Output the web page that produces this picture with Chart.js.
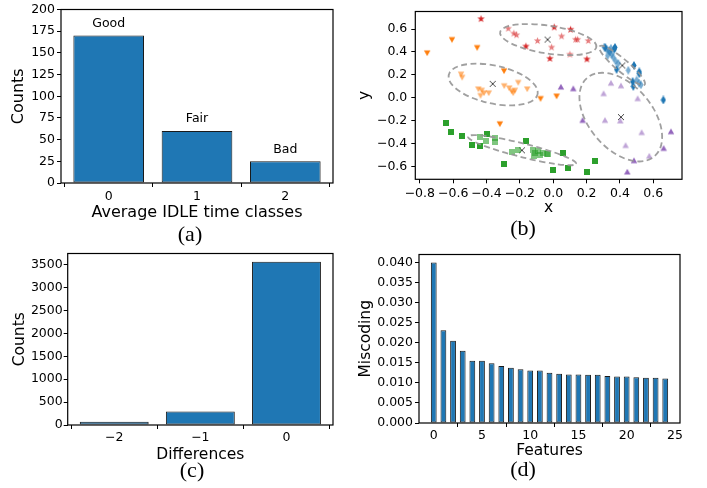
<!DOCTYPE html>
<html>
<head>
<meta charset="utf-8">
<script src="https://cdn.jsdelivr.net/npm/chart.js@4.4.0/dist/chart.umd.min.js"></script>
<style>
  body { margin: 0; background: #fff; width: 707px; height: 488px; position: relative; overflow: hidden; }
  canvas { position: absolute; }
  .cap { position: absolute; font-family: "Liberation Serif", serif; font-size: 22px; line-height: 1; transform: translate(-50%, -50%); color: #000; }
</style>
</head>
<body>
<canvas id="chartA" width="345" height="230" style="left:0;top:0"></canvas>
<canvas id="chartB" width="352" height="230" style="left:355px;top:0"></canvas>
<canvas id="chartC" width="345" height="243" style="left:0;top:245px"></canvas>
<canvas id="chartD" width="352" height="243" style="left:355px;top:245px"></canvas>
<div class="cap" style="left:190px;top:234px">(a)</div>
<div class="cap" style="left:523px;top:228px">(b)</div>
<div class="cap" style="left:192px;top:470px">(c)</div>
<div class="cap" style="left:523px;top:469px">(d)</div>
<script>
// (a) idle time classes
const idleClasses = [0, 1, 2];
const idleCounts = [170, 60, 25];
const idleNames = ['Good', 'Fair', 'Bad'];

// (c) differences
const diffValues = [-2, -1, 0];
const diffCounts = [72, 296, 3565];

// (d) miscoding per feature
const featureIdx = [0, 1, 2, 3, 4, 5, 6, 7, 8, 9, 10, 11, 12, 13, 14, 15, 16, 17, 18, 19, 20, 21, 22, 23, 24];
const miscoding = [0.0400, 0.0231, 0.0205, 0.0180, 0.0155, 0.0155, 0.0149, 0.0142, 0.0138, 0.0134, 0.0131, 0.0131,
  0.0125, 0.0123, 0.0121, 0.0121, 0.0120, 0.0120, 0.0117, 0.0116, 0.0116, 0.0114, 0.0113, 0.0113, 0.0111];

// (b) clustered points, [x, y]
const redIn = [[-0.27, 0.608], [-0.236, 0.565], [-0.22, 0.551], [-0.094, 0.50], [0.05, 0.54], [0.134, 0.511], [0.146, 0.511], [-0.01, 0.443], [0.10, 0.381], [0.21, 0.50]];
const redOut = [[-0.433, 0.692], [0.006, 0.619], [0.104, 0.599], [-0.164, 0.452], [-0.02, 0.345], [0.202, 0.339]];
const orangeIn = [[-0.553, 0.206], [-0.546, 0.178], [-0.449, 0.076], [-0.429, 0.065], [-0.415, 0.042], [-0.387, 0.042], [-0.436, 0.019], [-0.294, 0.104], [-0.264, 0.085], [-0.21, 0.133], [-0.249, 0.057], [-0.23, 0.065], [-0.24, 0.042], [-0.156, 0.076]];
const orangeOut = [[-0.607, 0.508], [-0.456, 0.438], [-0.756, 0.392], [-0.295, 0.235], [-0.076, -0.008], [0.02, 0.014], [-0.32, -0.229]];
const blueIn = [[0.306, 0.443], [0.32, 0.424], [0.334, 0.41], [0.35, 0.381], [0.36, 0.353], [0.374, 0.32], [0.346, 0.432], [0.326, 0.367], [0.34, 0.40], [0.39, 0.30], [0.45, 0.24], [0.5, 0.155], [0.514, 0.127], [0.526, 0.113]];
const blueOut = [[0.312, 0.438], [0.37, 0.44], [0.366, 0.424], [0.38, 0.248], [0.484, 0.282], [0.516, 0.226], [0.516, 0.21], [0.476, 0.141], [0.48, 0.099], [0.66, -0.02]];
const purpleIn = [[0.346, 0.127], [0.406, 0.104], [0.302, 0.036], [0.506, -0.008], [0.31, -0.198], [0.402, -0.203], [0.53, -0.305], [0.434, -0.418], [0.576, -0.511]];
const purpleOut = [[0.046, 0.093], [0.12, 0.079], [0.176, -0.198], [0.706, -0.297], [0.662, -0.443], [0.484, -0.551], [0.444, -0.65]];
const greenIn = [[-0.44, -0.347], [-0.404, -0.376], [-0.348, -0.35], [-0.348, -0.385], [-0.249, -0.472], [-0.21, -0.46], [-0.12, -0.46], [-0.11, -0.48], [-0.115, -0.51], [-0.09, -0.47], [-0.06, -0.48], [-0.03, -0.49], [-0.08, -0.50], [-0.04, -0.494]];
const greenOut = [[-0.645, -0.223], [-0.613, -0.297], [-0.549, -0.336], [-0.489, -0.413], [-0.44, -0.426], [-0.396, -0.319], [-0.164, -0.381], [-0.294, -0.576], [0.06, -0.486], [0, -0.636], [0.09, -0.619], [0.25, -0.551], [0.202, -0.653]];
const centers = [[-0.034, 0.508], [-0.363, 0.121], [0.414, 0.282], [0.406, -0.17], [-0.188, -0.46]];

// cluster ellipses (data units): centre, semi axes, angle in degrees
const ellCx = [-0.03, -0.36, 0.413, 0.405, -0.187];
const ellCy = [0.508, 0.115, 0.282, -0.17, -0.459];
const ellA = [0.296, 0.281, 0.216, 0.41, 0.345];
const ellB = [0.12, 0.161, 0.045, 0.21, 0.058];
const ellAngle = [-13.8, -22, -52, 112, -20.4];

const FONT = 'DejaVu Sans';
const BLUE = '#1f77b4';

const framePlugin = {
  id: 'frame',
  afterDraw(chart) {
    const a = chart.chartArea, ctx = chart.ctx;
    ctx.save();
    ctx.strokeStyle = '#000';
    ctx.lineWidth = 1.2;
    ctx.strokeRect(a.left, a.top, a.right - a.left, a.bottom - a.top);
    ctx.restore();
  }
};

function axis(o) {
  return {
    type: 'linear',
    min: o.min,
    max: o.max,
    offset: false,
    afterFit: s => { if (s.isHorizontal()) s.height = o.size; else s.width = o.size; },
    // ticks on multiples of the step inside the range
    afterBuildTicks: s => {
      const t = [];
      for (let k = Math.ceil(o.min / o.step - 1e-9); k * o.step <= o.max + 1e-9; k++) {
        t.push({ value: Math.round(k * o.step * 1e6) / 1e6 });
      }
      s.ticks = t;
    },
    border: { display: false },
    grid: { display: true, drawOnChartArea: false, drawTicks: true, tickLength: 4, color: '#000', lineWidth: 1 },
    ticks: {
      padding: o.pad, color: '#000',
      font: { family: FONT, size: 12.5 }, maxRotation: 0, autoSkip: false, callback: o.fmt
    },
    title: { display: true, text: o.title, color: '#000', font: { family: FONT, size: o.tsize }, padding: o.tpad }
  };
}

const minus = v => (v < -1e-9 ? '\u2212' : '') + Math.abs(v);
const dec1 = v => (v < -1e-9 ? '\u2212' : '') + Math.abs(v).toFixed(1);

function baseOptions(pad, scales) {
  return {
    responsive: false,
    animation: false,
    events: [],
    layout: { padding: pad },
    plugins: { legend: { display: false }, tooltip: { enabled: false } },
    scales: scales
  };
}

function barSet(xs, ys, pct) {
  return {
    data: xs.map((x, i) => ({ x: x, y: ys[i] })),
    backgroundColor: BLUE,
    borderColor: '#1a1a1a',
    borderWidth: 1,
    borderSkipped: false,
    barPercentage: pct,
    categoryPercentage: 1
  };
}

// (a)
const namesPlugin = {
  id: 'names',
  afterDatasetsDraw(chart) {
    const ctx = chart.ctx, xs = chart.scales.x, ys = chart.scales.y;
    ctx.save();
    ctx.fillStyle = '#000';
    ctx.font = '12.5px "DejaVu Sans"';
    ctx.textAlign = 'center';
    ctx.textBaseline = 'middle';
    idleNames.forEach((n, i) => {
      ctx.fillText(n, xs.getPixelForValue(idleClasses[i]), ys.getPixelForValue(idleCounts[i]) - 12);
    });
    ctx.restore();
  }
};

new Chart(document.getElementById('chartA'), {
  type: 'bar',
  data: { datasets: [barSet(idleClasses, idleCounts, 0.8)] },
  options: baseOptions({ top: 6, right: 12, left: 0, bottom: 0 }, {
    x: axis({ min: -0.54, max: 2.54, step: 1, size: 47, pad: 2.6, fmt: minus, title: 'Average IDLE time classes', tsize: 16, tpad: { top: 0, bottom: 8 } }),
    y: axis({ min: 0, max: 200, step: 25, size: 61, pad: 2, fmt: v => String(v), title: 'Counts', tsize: 16, tpad: { top: 9.6, bottom: 0 } })
  }),
  plugins: [framePlugin, namesPlugin]
});

// (b)
function marker(w, h, draw) {
  const c = document.createElement('canvas');
  c.width = w; c.height = h;
  draw(c.getContext('2d'));
  return c;
}
function star(color) {
  return marker(9, 9, g => {
    g.fillStyle = color;
    g.beginPath();
    for (let i = 0; i < 10; i++) {
      const r = i % 2 ? 1.6 : 3.9;
      const a = -Math.PI / 2 + i * Math.PI / 5;
      g.lineTo(4.5 + r * Math.cos(a), 4.8 + r * Math.sin(a));
    }
    g.closePath();
    g.fill();
  });
}
function triDown(color) {
  return marker(8, 8, g => {
    g.fillStyle = color;
    g.beginPath(); g.moveTo(0.8, 1.5); g.lineTo(7.2, 1.5); g.lineTo(4, 7.2); g.closePath(); g.fill();
  });
}
function triUp(color) {
  return marker(8, 8, g => {
    g.fillStyle = color;
    g.beginPath(); g.moveTo(4, 0.8); g.lineTo(7.2, 6.5); g.lineTo(0.8, 6.5); g.closePath(); g.fill();
  });
}
function square(color) {
  return marker(6, 6, g => { g.fillStyle = color; g.fillRect(0, 0, 6, 6); });
}
function diamond(color) {
  return marker(6, 9, g => {
    g.fillStyle = color;
    g.beginPath(); g.moveTo(3, 0); g.lineTo(5.6, 4.5); g.lineTo(3, 9); g.lineTo(0.4, 4.5); g.closePath(); g.fill();
  });
}
const crossMark = marker(8, 8, g => {
  g.strokeStyle = '#444'; g.lineWidth = 1;
  g.beginPath(); g.moveTo(1, 1); g.lineTo(7, 7); g.moveTo(7, 1); g.lineTo(1, 7); g.stroke();
});

function pts(arr, style) {
  return { data: arr.map(p => ({ x: p[0], y: p[1] })), pointStyle: style, pointRadius: 4, showLine: false };
}

const ellipsePlugin = {
  id: 'ellipses',
  afterDatasetsDraw(chart) {
    const ctx = chart.ctx, xs = chart.scales.x, ys = chart.scales.y;
    const kx = xs.getPixelForValue(1) - xs.getPixelForValue(0);
    const ky = ys.getPixelForValue(0) - ys.getPixelForValue(1);
    ctx.save();
    ctx.strokeStyle = 'rgba(150,150,150,0.9)';
    ctx.lineWidth = 1.8;
    ctx.setLineDash([6, 3.5]);
    ellCx.forEach((cx, i) => {
      ctx.save();
      ctx.translate(xs.getPixelForValue(cx), ys.getPixelForValue(ellCy[i]));
      ctx.scale(kx, -ky);
      ctx.beginPath();
      ctx.ellipse(0, 0, ellA[i], ellB[i], ellAngle[i] * Math.PI / 180, 0, Math.PI * 2);
      ctx.restore();
      ctx.stroke();
    });
    ctx.restore();
  }
};

new Chart(document.getElementById('chartB'), {
  type: 'scatter',
  data: {
    datasets: [
      pts(redIn, star('rgba(214,39,40,0.6)')),
      pts(orangeIn, triDown('rgba(255,127,14,0.6)')),
      pts(blueIn, diamond('rgba(31,119,180,0.6)')),
      pts(purpleIn, triUp('rgba(148,103,189,0.6)')),
      pts(greenIn, square('rgba(44,160,44,0.6)')),
      pts(redOut, star('#d62728')),
      pts(orangeOut, triDown('#ff7f0e')),
      pts(blueOut, diamond('#1f77b4')),
      pts(purpleOut, triUp('#9467bd')),
      pts(greenOut, square('#2ca02c')),
      pts(centers, crossMark)
    ]
  },
  options: baseOptions({ top: 6, right: 25, left: 0, bottom: 0 }, {
    x: axis({ min: -0.827, max: 0.772, step: 0.2, size: 50.7, pad: 2.8, fmt: dec1, title: 'x', tsize: 15.5, tpad: { top: 0, bottom: 12.4 } }),
    y: axis({ min: -0.714, max: 0.754, step: 0.2, size: 60.3, pad: 4, fmt: dec1, title: 'y', tsize: 15.5, tpad: { top: 0.7, bottom: 0 } })
  }),
  plugins: [framePlugin, ellipsePlugin]
});

// (c)
new Chart(document.getElementById('chartC'), {
  type: 'bar',
  data: { datasets: [barSet(diffValues, diffCounts, 0.8)] },
  options: baseOptions({ top: 7.7, right: 12, left: 0, bottom: 0 }, {
    x: axis({ min: -2.54, max: 0.54, step: 1, size: 63, pad: 1.5, fmt: minus, title: 'Differences', tsize: 15.5, tpad: { top: 0, bottom: 24.2 } }),
    y: axis({ min: 0, max: 3743, step: 500, size: 67.7, pad: 1, fmt: v => String(v), title: 'Counts', tsize: 15.5, tpad: { top: 10.2, bottom: 0 } })
  }),
  plugins: [framePlugin]
});

// (d)
new Chart(document.getElementById('chartD'), {
  type: 'bar',
  data: { datasets: [barSet(featureIdx, miscoding, 0.6)] },
  options: baseOptions({ top: 9.3, right: 27, left: 0, bottom: 0 }, {
    x: axis({ min: -1.53, max: 25.53, step: 5, size: 65, pad: 0.8, fmt: minus, title: 'Features', tsize: 15.5, tpad: { top: 0, bottom: 27.7 } }),
    y: axis({ min: 0, max: 0.042, step: 0.005, size: 64, pad: 2, fmt: v => v.toFixed(3), title: 'Miscoding', tsize: 15.5, tpad: { top: 1.7, bottom: 0 } })
  }),
  plugins: [framePlugin]
});
</script>
</body>
</html>
